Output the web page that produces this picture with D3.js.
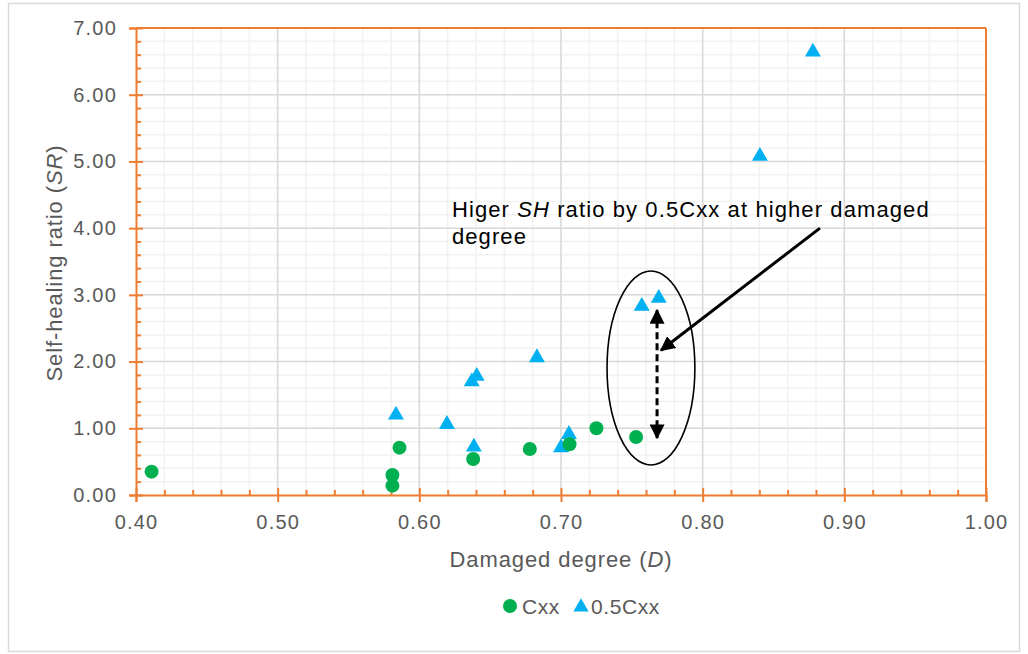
<!DOCTYPE html>
<html><head><meta charset="utf-8">
<script src="https://cdn.jsdelivr.net/npm/d3@7"></script>
<style>
html,body{margin:0;padding:0;background:#fff;}
text{font-family:"Liberation Sans",Arial,sans-serif;}
</style></head>
<body>
<svg id="chart" width="1028" height="654"></svg>
<script>
// Data
const cxxD  = [0.411, 0.581, 0.581, 0.586, 0.638, 0.678, 0.706, 0.725, 0.753];
const cxxSR = [0.35, 0.30, 0.14, 0.71, 0.54, 0.69, 0.76, 1.00, 0.87];
const halfD  = [0.5835, 0.6195, 0.637, 0.6405, 0.6385, 0.683, 0.700, 0.7056, 0.757, 0.769, 0.8404, 0.8778];
const halfSR = [1.20, 1.06, 1.70, 1.78, 0.72, 2.06, 0.71, 0.91, 2.83, 2.95, 5.08, 6.64];
const xTicks = [0.40, 0.50, 0.60, 0.70, 0.80, 0.90, 1.00];
const yTicks = [0, 1, 2, 3, 4, 5, 6, 7];
const seriesNames = ["Cxx", "0.5Cxx"];
const noteLine1 = ["Higer ", "SH", " ratio by 0.5Cxx at higher damaged"];
const noteLine2 = "degree";

const svg = d3.select("#chart");
const L = 136, R = 986, T = 28, B = 495;
const x = d3.scaleLinear().domain([0.4, 1.0]).range([L, R]);
const y = d3.scaleLinear().domain([0, 7]).range([B, T]);
const orange = "#ed7d31", green = "#00b050", blue = "#00b0f0", gray = "#595959";
const bigFont = "22px", bigLS = "0.9px";

// outer border
svg.append("rect").attr("x", 8.5).attr("y", 3.5).attr("width", 1011).attr("height", 648)
  .attr("fill", "#fff").attr("stroke", "#d9d9d9").attr("stroke-width", 1.5);

// minor grid
const g = svg.append("g");
d3.range(0.42, 1.0, 0.02).forEach(v => {
  g.append("line").attr("x1", x(v)).attr("x2", x(v)).attr("y1", T).attr("y2", B)
    .attr("stroke", "#f2f2f2").attr("stroke-width", 1.5);
});
d3.range(0.2, 7.0, 0.2).forEach(v => {
  g.append("line").attr("x1", L).attr("x2", R).attr("y1", y(v)).attr("y2", y(v))
    .attr("stroke", "#f2f2f2").attr("stroke-width", 1.5);
});
// major grid
xTicks.slice(1, -1).forEach(v => {
  g.append("line").attr("x1", x(v)).attr("x2", x(v)).attr("y1", T).attr("y2", B)
    .attr("stroke", "#d9d9d9").attr("stroke-width", 1.5);
});
yTicks.slice(1, -1).forEach(v => {
  g.append("line").attr("x1", L).attr("x2", R).attr("y1", y(v)).attr("y2", y(v))
    .attr("stroke", "#d9d9d9").attr("stroke-width", 1.5);
});

// plot frame (top and right)
svg.append("line").attr("x1", L).attr("x2", R).attr("y1", T).attr("y2", T).attr("stroke", orange).attr("stroke-width", 2);
svg.append("line").attr("x1", R).attr("x2", R).attr("y1", T).attr("y2", B).attr("stroke", orange).attr("stroke-width", 2);

// axes
const xAxis = svg.append("g").attr("transform", `translate(0,${B})`)
  .call(d3.axisBottom(x).tickValues(xTicks).tickFormat(d3.format(".2f")).tickSize(7).tickPadding(13));
xAxis.select(".domain").attr("stroke", orange).attr("stroke-width", 2);
xAxis.selectAll(".tick line").attr("stroke", orange).attr("stroke-width", 2).attr("y1", -7);
xAxis.selectAll("text").attr("fill", gray).style("font-size", "20px").style("letter-spacing", "1.2px");
const xMinor = svg.append("g").attr("transform", `translate(0,${B})`)
  .call(d3.axisBottom(x).tickValues(d3.range(0.42, 1.0, 0.02).filter(v => Math.abs(v*10 - Math.round(v*10)) > 0.01)).tickSize(-5).tickFormat(""));
xMinor.select(".domain").remove();
xMinor.selectAll(".tick line").attr("stroke", orange).attr("stroke-width", 2);

const yAxis = svg.append("g").attr("transform", `translate(${L},0)`)
  .call(d3.axisLeft(y).tickValues(yTicks).tickFormat(d3.format(".2f")).tickSize(7).tickPadding(12));
yAxis.select(".domain").attr("stroke", orange).attr("stroke-width", 2);
yAxis.selectAll(".tick line").attr("stroke", orange).attr("stroke-width", 2).attr("x1", 7);
yAxis.selectAll("text").attr("fill", gray).style("font-size", "20px").style("letter-spacing", "1.2px");
const yMinor = svg.append("g").attr("transform", `translate(${L},0)`)
  .call(d3.axisLeft(y).tickValues(d3.range(0.2, 7.0, 0.2).filter(v => Math.abs(v - Math.round(v)) > 0.01)).tickSize(-5).tickFormat(""));
yMinor.select(".domain").remove();
yMinor.selectAll(".tick line").attr("stroke", orange).attr("stroke-width", 2);

// axis titles
const xt = svg.append("text").attr("x", 561).attr("y", 567).attr("text-anchor", "middle")
  .attr("fill", gray).style("font-size", bigFont).style("letter-spacing", bigLS);
xt.append("tspan").text("Damaged degree (");
xt.append("tspan").style("font-style", "italic").text("D");
xt.append("tspan").text(")");
const yt = svg.append("text").attr("transform", `translate(62,263) rotate(-90)`).attr("text-anchor", "middle")
  .attr("fill", gray).style("font-size", bigFont).style("letter-spacing", bigLS);
yt.append("tspan").text("Self-healing ratio (");
yt.append("tspan").style("font-style", "italic").text("SR");
yt.append("tspan").text(")");

// markers
const tri = d3.symbol().type(d3.symbolTriangle).size(110);
svg.append("g").selectAll("path").data(halfD.map((d, i) => [d, halfSR[i]])).join("path")
  .attr("d", tri).attr("transform", d => `translate(${x(d[0])},${y(d[1])})`).attr("fill", blue);
svg.append("g").selectAll("circle").data(cxxD.map((d, i) => [d, cxxSR[i]])).join("circle")
  .attr("cx", d => x(d[0])).attr("cy", d => y(d[1])).attr("r", 7).attr("fill", green);

// annotation
const defs = svg.append("defs");
defs.append("marker").attr("id", "ah").attr("viewBox", "0 0 10 10").attr("refX", 9).attr("refY", 5)
  .attr("markerWidth", 5).attr("markerHeight", 5).attr("orient", "auto-start-reverse").attr("markerUnits", "strokeWidth")
  .append("path").attr("d", "M0,0 L10,5 L0,10 Z").attr("fill", "#000");

svg.append("ellipse").attr("cx", x(0.7635)).attr("cy", y(1.904))
  .attr("rx", x(0.7635 + 0.031) - x(0.7635)).attr("ry", y(0) - y(1.454))
  .attr("fill", "none").attr("stroke", "#000").attr("stroke-width", 1.6);
svg.append("line").attr("x1", x(0.7678)).attr("x2", x(0.7678)).attr("y1", y(2.77)).attr("y2", y(0.855))
  .attr("stroke", "#000").attr("stroke-width", 3).attr("stroke-dasharray", "7,4")
  .attr("marker-start", "url(#ah)").attr("marker-end", "url(#ah)");
svg.append("line").attr("x1", x(0.8828)).attr("y1", y(4.0)).attr("x2", x(0.7706)).attr("y2", y(2.17))
  .attr("stroke", "#000").attr("stroke-width", 3).attr("marker-end", "url(#ah)");

const note = svg.append("text").attr("x", x(0.623)).attr("y", y(4.17)).attr("fill", "#000")
  .style("font-size", bigFont).style("letter-spacing", "1.1px");
note.append("tspan").text(noteLine1[0]);
note.append("tspan").style("font-style", "italic").text(noteLine1[1]);
note.append("tspan").text(noteLine1[2]);
svg.append("text").attr("x", x(0.623)).attr("y", y(4.17) + 27).attr("fill", "#000")
  .style("font-size", bigFont).style("letter-spacing", "1.1px").text(noteLine2);

// legend
const lg = svg.append("g");
lg.append("circle").attr("cx", 510).attr("cy", 606).attr("r", 7).attr("fill", green);
lg.append("text").attr("x", 522).attr("y", 614).attr("fill", gray).style("font-size", "21px").style("letter-spacing", "0.6px").text(seriesNames[0]);
lg.append("path").attr("d", d3.symbol().type(d3.symbolTriangle).size(100)).attr("transform", "translate(581,607)").attr("fill", blue);
lg.append("text").attr("x", 591).attr("y", 614).attr("fill", gray).style("font-size", "21px").style("letter-spacing", "0.6px").text(seriesNames[1]);
</script>
</body></html>
